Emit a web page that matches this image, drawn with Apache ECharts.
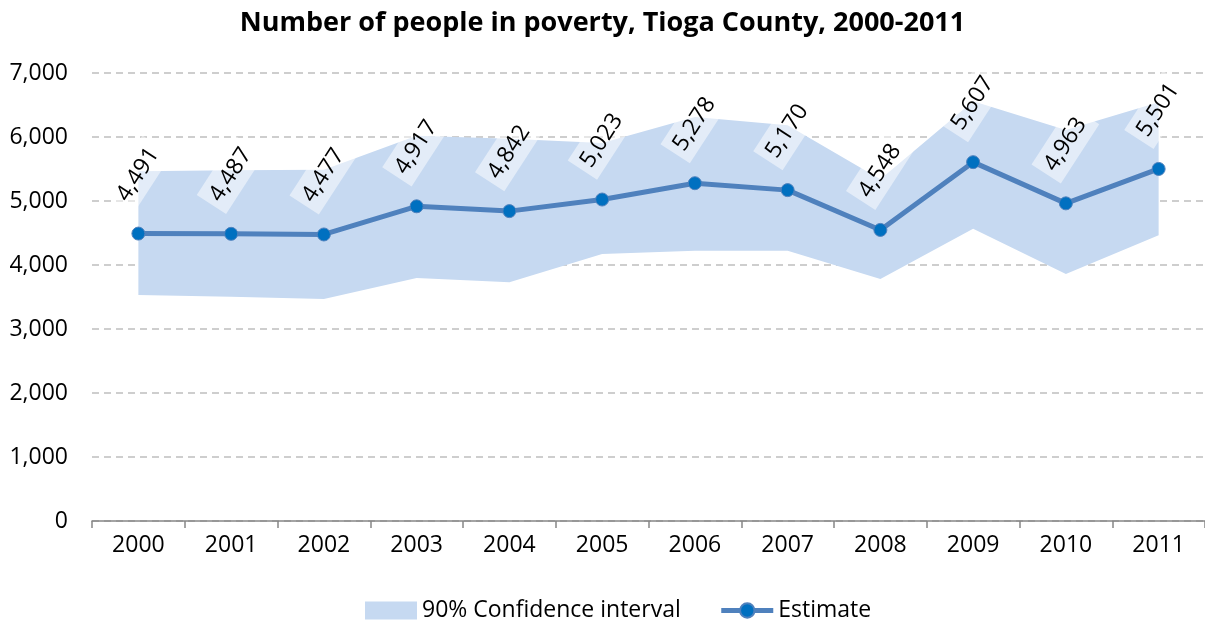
<!DOCTYPE html>
<html>
<head>
<meta charset="utf-8">
<script src="https://cdn.jsdelivr.net/npm/echarts@6/dist/echarts.min.js"></script>
<style>html,body{margin:0;padding:0;background:#fff}#c{width:1205px;height:627px}</style>
</head>
<body>
<div id="c"></div>
<script>
const years = ['2000','2001','2002','2003','2004','2005','2006','2007','2008','2009','2010','2011'];
const estimate = [4491,4487,4477,4917,4842,5023,5278,5170,4548,5607,4963,5501];
const lowerCI = [3531,3505,3469,3797,3729,4172,4224,4224,3781,4568,3859,4464];
const upperCI = [5464,5479,5490,6021,5974,5906,6312,6182,5340,6557,6110,6542];
const yTicks = {min:0, max:7000, interval:1000};

const bandWidth = upperCI.map((u,i)=>u-lowerCI[i]);
const FONT = 'Open Sans';
const chart = echarts.init(document.getElementById('c'));
chart.setOption({
  animation:false,
  title:{text:'Number of people in poverty, Tioga County, 2000-2011', left:'center', top:5,
    textStyle:{fontFamily:FONT, fontWeight:'bold', fontSize:27, color:'#000'}},
  grid:{left:92, right:0, top:73, bottom:106},
  legend:{bottom:0, left:360, itemGap:38, itemWidth:52, itemHeight:18,
    textStyle:{fontFamily:FONT, fontSize:23, color:'#000'},
    data:[{name:'90% Confidence interval', icon:'rect'},
          {name:'Estimate', lineStyle:{width:5, color:'#4F81BD'}}]},
  xAxis:{type:'category', data:years, boundaryGap:true,
    axisLine:{lineStyle:{color:'#868686', width:1.5}},
    axisTick:{show:true, length:7, lineStyle:{color:'#868686', width:1.5}},
    axisLabel:{fontFamily:FONT, fontSize:23, color:'#000', margin:13}},
  yAxis:{type:'value', min:yTicks.min, max:yTicks.max, interval:yTicks.interval,
    axisLine:{show:false}, axisTick:{show:false},
    axisLabel:{fontFamily:FONT, fontSize:23, color:'#000', margin:24,
      formatter:v=>v.toLocaleString('en-US')},
    splitLine:{lineStyle:{color:'#BFBFBF', type:[7,5], width:1.5}}},
  series:[
    {name:'lower', type:'line', stack:'ci', data:lowerCI, symbol:'none',
      lineStyle:{width:0}, areaStyle:{opacity:0}, silent:true, z:1},
    {name:'90% Confidence interval', type:'line', stack:'ci', data:bandWidth, symbol:'none',
      itemStyle:{color:'#C6D9F1'},
      lineStyle:{width:0}, areaStyle:{color:'#C6D9F1', opacity:1}, z:2},
    {name:'Estimate', type:'line', data:estimate, symbol:'circle', symbolSize:13, z:5,
      lineStyle:{color:'#4F81BD', width:5},
      itemStyle:{color:'#0070C0', borderColor:'#4F81BD', borderWidth:1},
      label:{show:true, position:[6.5,-52], align:'center', verticalAlign:'middle', rotate:57,
        fontFamily:FONT, fontSize:23, color:'#000',
        backgroundColor:'rgba(255,255,255,0.5)', padding:[6,6],
        formatter:p=>p.value.toLocaleString('en-US')}}
  ]
});
</script>
</body>
</html>
